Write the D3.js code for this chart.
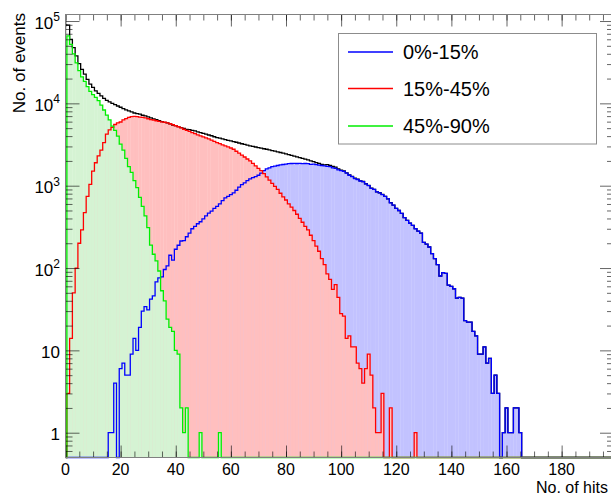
<!DOCTYPE html>
<html>
<head>
<meta charset="utf-8">
<script src="https://cdn.jsdelivr.net/npm/d3@7"></script>
<style>
  body { margin: 0; background: #fff; }
  text { font-family: "Liberation Sans", Arial, Helvetica, sans-serif; fill: #000; }
</style>
</head>
<body>
<div id="chart"></div>
<script>
// Hit multiplicity per centrality class, bin k = k hits
var nBins = 199;

var totalCounts = [
  90000, 89000, 60000, 47600, 37700, 30400, 25900, 22600, 19600, 17100,
  15600, 14200, 13200, 12300, 11500, 10900, 10400, 10000, 9670, 9290,
  8970, 8650, 8320, 8090, 7870, 7640, 7510, 7380, 7170, 7030,
  6840, 6650, 6470, 6360, 6180, 6010, 5890, 5780, 5620, 5460,
  5370, 5220, 5080, 4980, 4840, 4800, 4700, 4620, 4500, 4420,
  4330, 4220, 4130, 4040, 3930, 3840, 3780, 3700, 3630, 3560,
  3500, 3430, 3370, 3300, 3230, 3170, 3110, 3040, 3000, 2950,
  2900, 2860, 2810, 2770, 2720, 2670, 2630, 2580, 2530, 2480,
  2440, 2390, 2340, 2290, 2240, 2190, 2150, 2100, 2060, 2000,
  1960, 1910, 1870, 1820, 1790, 1800, 1770, 1710, 1680, 1604,
  1548, 1516, 1434, 1355, 1301, 1231, 1197, 1146, 1124, 1056,
  1009, 935, 902, 841, 821, 783, 740, 690, 622, 580,
  530, 500, 460, 410, 380, 350, 330, 301, 280, 265,
  205, 195, 180, 150, 130, 110, 80, 88, 86, 62,
  60, 56, 43, 44, 43, 23, 22, 22, 17, 15,
  9, 9, 11, 7, 8, 3, 5, 3, 0, 1,
  2, 1, 1, 2, 2, 1
];

var counts0to15 = [
  0, 0, 0, 0, 0, 0, 0, 0, 0, 0,
  0, 0, 0, 0, 0, 0, 1, 1, 4, 0,
  6, 7, 5, 5, 9, 14, 10, 19, 30, 34,
  31, 42, 46, 68, 76, 78, 96, 106, 143, 125,
  169, 189, 213, 215, 240, 265, 300, 320, 345, 365,
  395, 430, 465, 490, 530, 560, 600, 660, 710, 740,
  780, 820, 880, 960, 1030, 1080, 1150, 1210, 1250, 1290,
  1340, 1420, 1520, 1600, 1650, 1700, 1730, 1760, 1790, 1810,
  1830, 1850, 1860, 1870, 1860, 1870, 1850, 1860, 1850, 1820,
  1830, 1800, 1780, 1760, 1740, 1720, 1700, 1650, 1620, 1560,
  1520, 1490, 1420, 1340, 1290, 1220, 1190, 1140, 1120, 1050,
  1000, 930, 900, 840, 820, 780, 740, 690, 620, 580,
  530, 500, 460, 410, 380, 350, 330, 300, 280, 265,
  205, 195, 180, 150, 130, 110, 80, 88, 86, 62,
  60, 56, 43, 44, 43, 23, 22, 22, 17, 15,
  9, 9, 11, 7, 8, 3, 5, 3, 0, 1,
  2, 1, 1, 2, 2, 1
];

var counts15to45 = [
  0, 3, 14, 50, 100, 200, 290, 470, 740, 1040,
  1500, 1900, 2300, 2700, 3330, 4220, 4760, 5100, 5540, 5800,
  5940, 6300, 6530, 6750, 6900, 6940, 6900, 6800, 6740, 6650,
  6500, 6350, 6280, 6150, 6050, 5950, 5900, 5780, 5650, 5500,
  5350, 5200, 5050, 4850, 4700, 4560, 4420, 4300, 4150, 4030,
  3920, 3800, 3700, 3580, 3450, 3330, 3240, 3140, 3050, 2960,
  2870, 2770, 2620, 2480, 2350, 2230, 2110, 2000, 1870, 1740,
  1620, 1520, 1400, 1280, 1170, 1070, 980, 900, 810, 730,
  670, 600, 550, 500, 450, 400, 360, 320, 290, 250,
  215, 185, 160, 130, 110, 85, 73, 55, 63, 44,
  28, 26, 14, 15, 11, 11, 7, 6, 4, 6,
  9, 5, 2, 1, 1, 3, 0, 0, 2, 0,
  0, 0, 0, 0, 0, 0, 0, 1
];

var counts45to90 = [
  0, 66000, 52000, 40000, 31000, 25000, 21000, 18500, 16000, 14000,
  12800, 11800, 10800, 9500, 8300, 7200, 6300, 5300, 4700, 4000,
  3200, 2700, 2150, 1700, 1450, 1150, 950, 720, 560, 430,
  310, 190, 147, 122, 92, 53, 40, 24, 19, 17,
  10, 9, 2, 1, 2, 0, 0, 0, 0, 1,
  0, 0, 0, 0, 0, 0, 1
];

var seriesLabels = ["0%-15%", "15%-45%", "45%-90%"];
var xTickLabels = [0, 20, 40, 60, 80, 100, 120, 140, 160, 180];
var yTickExponents = [0, 1, 2, 3, 4, 5];

// SVG and frame
var svgWidth = 611;
var svgHeight = 496;
var frame = { left: 65.5, right: 614, top: 14.5, bottom: 457.5 };

var svg = d3.select("#chart")
  .append("svg")
  .attr("width", svgWidth)
  .attr("height", svgHeight);

var xScale = d3.scaleLinear()
  .domain([0, nBins])
  .range([frame.left, frame.right]);

var yScale = d3.scaleLog()
  .domain([0.5, 1.2e5])
  .range([frame.bottom, frame.top]);

svg.append("clipPath")
  .attr("id", "plotClip")
  .append("rect")
  .attr("x", frame.left)
  .attr("y", frame.top)
  .attr("width", frame.right - frame.left)
  .attr("height", frame.bottom - frame.top + 3);

function padded(counts) {
  return d3.range(nBins).map(function(k) { return counts[k] || 0; });
}

function binLeft(k) { return xScale(Math.max(0, k - 0.5)); }
function binRight(k) { return xScale(Math.min(nBins, k + 0.5)); }

// outline of a histogram, zero bins drawn on the bottom of the frame
function stepPath(counts) {
  var p = d3.path();
  p.moveTo(xScale(0), frame.bottom);
  padded(counts).forEach(function(c, k) {
    var yy = c > 0 ? yScale(c) : frame.bottom;
    p.lineTo(binLeft(k), yy);
    p.lineTo(binRight(k), yy);
  });
  return p.toString();
}

var plot = svg.append("g").attr("clip-path", "url(#plotClip)");

var fills = [
  { counts: counts0to15, fill: "#c2c2ff" },
  { counts: counts15to45, fill: "#ffbfbf" },
  { counts: counts45to90, fill: "#d5f3d3" }
];

// one bar per bin, slightly overlapping so only faint seams remain
fills.forEach(function(s) {
  plot.append("g")
    .selectAll("rect")
    .data(padded(s.counts).map(function(c, k) { return { k: k, c: c }; })
      .filter(function(d) { return d.c > 0; }))
    .enter()
    .append("rect")
    .attr("x", d => binLeft(d.k))
    .attr("width", d => binRight(d.k) - binLeft(d.k) + 0.3)
    .attr("y", d => yScale(d.c))
    .attr("height", d => frame.bottom - yScale(d.c))
    .attr("fill", s.fill);
});

var lines = [
  { counts: totalCounts, color: "#000000" },
  { counts: counts0to15, color: "#0000ff" },
  { counts: counts15to45, color: "#ff0000" },
  { counts: counts45to90, color: "#00ee00" }
];

lines.forEach(function(s) {
  plot.append("path")
    .attr("d", stepPath(s.counts))
    .attr("fill", "none")
    .attr("stroke", s.color)
    .attr("stroke-width", 1.3);
});

// ticks on all four sides
var xMinor = d3.range(0, nBins, 5);
var yMajor = yTickExponents.map(e => Math.pow(10, e));
var yMinor = [0.6, 0.7, 0.8, 0.9];
yTickExponents.forEach(function(e) {
  for (var m = 2; m <= 9; m++) {
    var v = m * Math.pow(10, e);
    if (v < 1.2e5) yMinor.push(v);
  }
});

function tickGroup(axis, tx, ty) {
  svg.append("g")
    .attr("transform", `translate(${tx}, ${ty})`)
    .call(axis)
    .call(g => g.select(".domain").remove())
    .call(g => g.selectAll("line").attr("stroke", "#000").attr("stroke-opacity", 0.6));
}

tickGroup(d3.axisBottom(xScale).tickValues(xMinor).tickSize(-6).tickFormat(""), 0, frame.bottom);
tickGroup(d3.axisBottom(xScale).tickValues(xTickLabels).tickSize(-12).tickFormat(""), 0, frame.bottom);
tickGroup(d3.axisTop(xScale).tickValues(xMinor).tickSize(-6).tickFormat(""), 0, frame.top);
tickGroup(d3.axisTop(xScale).tickValues(xTickLabels).tickSize(-12).tickFormat(""), 0, frame.top);
tickGroup(d3.axisLeft(yScale).tickValues(yMinor).tickSize(-7).tickFormat(""), frame.left, 0);
tickGroup(d3.axisLeft(yScale).tickValues(yMajor).tickSize(-14).tickFormat(""), frame.left, 0);
tickGroup(d3.axisRight(yScale).tickValues(yMinor).tickSize(-7).tickFormat(""), frame.right, 0);
tickGroup(d3.axisRight(yScale).tickValues(yMajor).tickSize(-14).tickFormat(""), frame.right, 0);

// frame
svg.append("rect")
  .attr("x", frame.left)
  .attr("y", frame.top)
  .attr("width", frame.right - frame.left)
  .attr("height", frame.bottom - frame.top)
  .attr("fill", "none")
  .attr("stroke", "#808080")
  .attr("stroke-width", 1);

// tick labels
svg.append("g").selectAll("text")
  .data(xTickLabels)
  .enter()
  .append("text")
  .attr("x", d => xScale(d))
  .attr("y", 474.5)
  .attr("text-anchor", "middle")
  .attr("font-size", "16px")
  .text(d => d);

var yLabels = svg.append("g").selectAll("text")
  .data(yTickExponents)
  .enter()
  .append("text")
  .attr("x", 60)
  .attr("y", d => yScale(Math.pow(10, d)) + 7.5)
  .attr("text-anchor", "end")
  .attr("font-size", "17px");

yLabels.append("tspan").text(d => d === 0 ? "1" : "10");
yLabels.filter(d => d > 1)
  .append("tspan")
  .attr("font-size", "12px")
  .attr("dy", -7.5)
  .text(d => d);

// axis titles
svg.append("text")
  .attr("transform", "translate(25, 13) rotate(-90)")
  .attr("text-anchor", "end")
  .attr("font-size", "17px")
  .text("No. of events");

svg.append("text")
  .attr("x", 608)
  .attr("y", 492.5)
  .attr("text-anchor", "end")
  .attr("font-size", "16px")
  .text("No. of hits");

// legend
var legendColors = ["#0000ff", "#ff0000", "#00ee00"];
var legend = svg.append("g");

legend.append("rect")
  .attr("x", 338.5)
  .attr("y", 33.5)
  .attr("width", 258)
  .attr("height", 110.5)
  .attr("fill", "#fff")
  .attr("stroke", "#8c8c8c")
  .attr("stroke-width", 1);

var legendRows = [52, 88.5, 126];

seriesLabels.forEach(function(label, i) {
  legend.append("line")
    .attr("x1", 348)
    .attr("x2", 393)
    .attr("y1", legendRows[i])
    .attr("y2", legendRows[i])
    .attr("stroke", legendColors[i])
    .attr("stroke-width", 1.5);
  legend.append("text")
    .attr("x", 403)
    .attr("y", legendRows[i] + 7)
    .attr("font-size", "20px")
    .text(label);
});
</script>
</body>
</html>
